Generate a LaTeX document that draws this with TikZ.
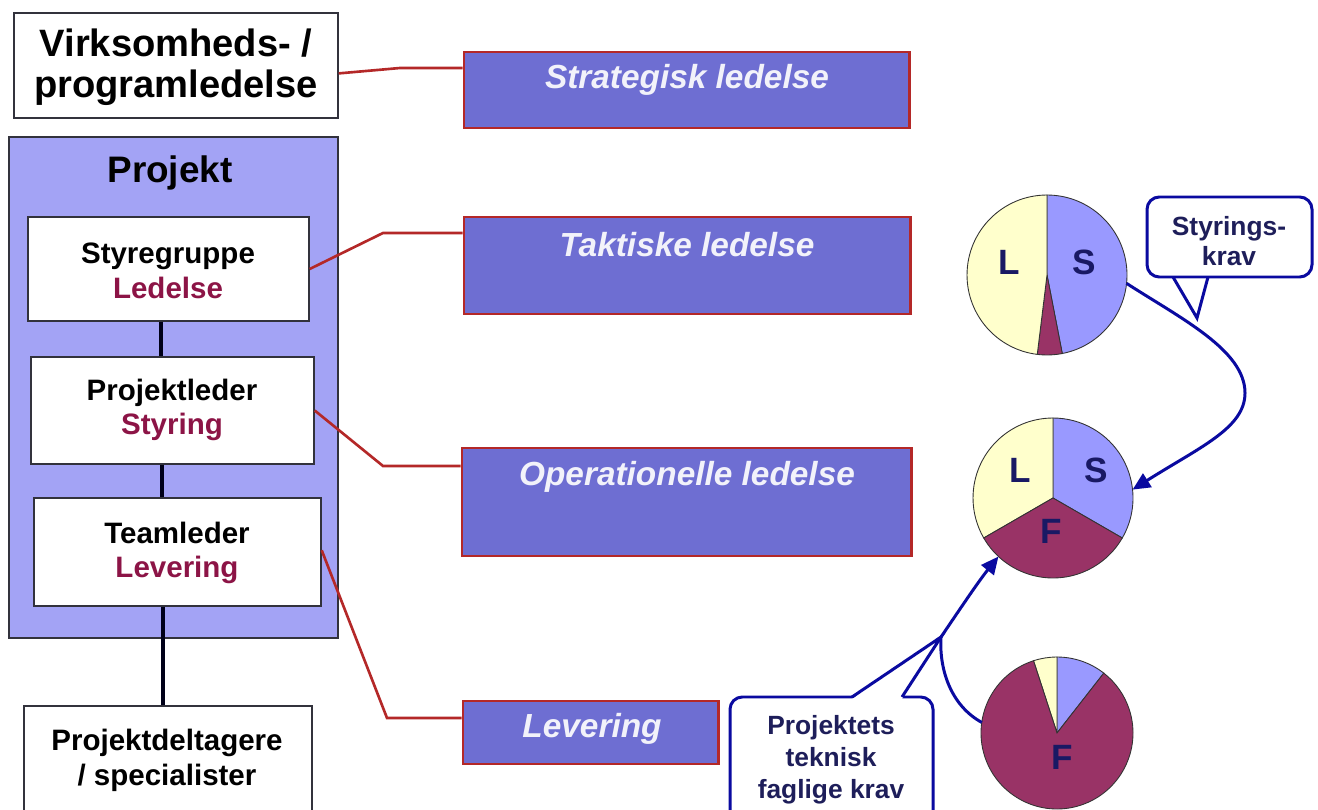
\documentclass[tikz,border=0pt]{standalone}
\usepackage{fontspec}
\setmainfont{Liberation Sans}
\usetikzlibrary{arrows.meta,fit}
\definecolor{projfill}{RGB}{163,163,245}
\definecolor{rbfill}{RGB}{110,110,210}
\definecolor{rbborder}{RGB}{180,40,40}
\definecolor{redtxt}{RGB}{140,20,70}
\definecolor{navy}{RGB}{10,10,160}
\definecolor{pietxt}{RGB}{25,25,100}
\definecolor{calltxt}{RGB}{30,30,90}
\definecolor{pieS}{RGB}{153,153,255}
\definecolor{pieL}{RGB}{255,255,204}
\definecolor{pieF}{RGB}{153,51,102}
\definecolor{boxline}{RGB}{50,50,60}
\definecolor{rtxtcol}{RGB}{242,242,250}
\begin{document}
\begin{tikzpicture}[x=0.02cm,y=-0.02cm,
  wbox/.style={draw=boxline, line width=0.8pt, fill=white, inner sep=0pt},
  wtext/.style={align=center, font=\fontsize{16.8}{19.8}\selectfont\bfseries},
  rbox/.style={draw=rbborder, line width=1.7pt, fill=rbfill, inner sep=0pt},
  rtext/.style={text=rtxtcol, font=\fontsize{19}{22}\selectfont\bfseries\itshape},
  redline/.style={draw=rbborder, line width=1.5pt},
  blk/.style={draw=black!90!blue, line width=2.8pt},
  sector/.style={draw=black!80, line width=0.5pt},
  pielbl/.style={text=pietxt, font=\fontsize{20}{24}\selectfont\bfseries},
  cbox/.style={draw=navy, line width=1.7pt, fill=white},
  ctext/.style={text=calltxt, align=center, font=\fontsize{15}{17.5}\selectfont\bfseries},
  navyarrow/.style={draw=navy, line width=1.7pt, -{Triangle[length=10pt,width=9pt]}},
  navyline/.style={draw=navy, line width=1.7pt}
]
\useasboundingbox (0,0) rectangle (1318,810);
\clip (0,0) rectangle (1318,810);
\fill[white] (0,0) rectangle (1318,810);

% left column
\node[wbox, fit={(14,13) (338,118)}] (virk) {};
\node[wtext, font=\fontsize{21.7}{23.2}\selectfont\bfseries] (virkt) at (176,67) {Virksomheds- /\\programledelse};
\node[draw=boxline, line width=0.6pt, fill=projfill, inner sep=0pt, fit={(9,137) (338,638)}] (proj) {};
\node[font=\fontsize{21}{24}\selectfont\bfseries] (projt) at (170,173) {Projekt};
\node[wbox, fit={(28,217) (309,321)}] (styr) {};
\node[wtext] (styrt) at (168,271) {Styregruppe\\\textcolor{redtxt}{Ledelse}};
\node[wbox, fit={(31,357) (314,464)}] (projl) {};
\node[wtext] (projlt) at (172,410) {Projektleder\\\textcolor{redtxt}{Styring}};
\node[wbox, fit={(34,498) (321,606)}] (team) {};
\node[wtext] (teamt) at (177,553) {Teamleder\\\textcolor{redtxt}{Levering}};
\node[wbox, fit={(24,706) (312,850)}] (delt) {};
\node[wtext] (deltt) at (167,760) {Projektdeltagere\\/ specialister};

\draw[blk] (161,0 |- styr.south) -- (161,0 |- projl.north);
\draw[blk] (162,0 |- projl.south) -- (162,0 |- team.north);
\draw[blk] (163,0 |- team.south) -- (163,0 |- delt.north);

% right boxes
\node[rbox, fit={(464,52) (909,128)}] (strat) {};
\node[rtext] (stratt) at (687,80) {Strategisk ledelse};
\node[rbox, fit={(464,217) (910,314)}] (takt) {};
\node[rtext] (taktt) at (687,245) {Taktiske ledelse};
\node[rbox, fit={(462,448) (911,556)}] (oper) {};
\node[rtext] (opert) at (687,477) {Operationelle ledelse};
\node[rbox, fit={(463,701) (718,764)}] (lev) {};
\node[rtext] (levt) at (592,729) {Levering};

% red connectors
\coordinate (k1) at (400,68);
\draw[redline] ([yshift=-4.5pt]virk.east) -- (k1) -- (k1 -| strat.west);
\coordinate (k2) at (383,233);
\draw[redline] (styr.east) -- (k2) -- (k2 -| takt.west);
\coordinate (k3) at (383,466);
\draw[redline] (projl.east) -- (k3) -- (k3 -| oper.west);
\coordinate (k4) at (387,718);
\draw[redline] ([yshift=1pt]team.east) -- (k4) -- (k4 -| lev.west);

% pies
\coordinate (p1) at (1047,275);
\fill[pieS, sector] (p1) -- ++(-79:1.6cm) arc[start angle=-79,end angle=90,radius=1.6cm] -- cycle;
\fill[pieF, sector] (p1) -- ++(-97:1.6cm) arc[start angle=-97,end angle=-79,radius=1.6cm] -- cycle;
\fill[pieL, sector] (p1) -- ++(90:1.6cm) arc[start angle=90,end angle=263,radius=1.6cm] -- cycle;
\node[pielbl] (p1L) at (1009,262) {L};
\node[pielbl] (p1S) at (1084,262) {S};

\coordinate (p2) at (1053,498);
\fill[pieS, sector] (p2) -- ++(-30:1.6cm) arc[start angle=-30,end angle=90,radius=1.6cm] -- cycle;
\fill[pieL, sector] (p2) -- ++(90:1.6cm) arc[start angle=90,end angle=210,radius=1.6cm] -- cycle;
\fill[pieF, sector] (p2) -- ++(210:1.6cm) arc[start angle=210,end angle=330,radius=1.6cm] -- cycle;
\node[pielbl] (p2L) at (1020,470) {L};
\node[pielbl] (p2S) at (1096,470) {S};
\node[pielbl] (p2F) at (1051,531) {F};

\coordinate (p3) at (1057,733);
\fill[pieS, sector] (p3) -- ++(52:1.52cm) arc[start angle=52,end angle=90,radius=1.52cm] -- cycle;
\fill[pieL, sector] (p3) -- ++(90:1.52cm) arc[start angle=90,end angle=108,radius=1.52cm] -- cycle;
\fill[pieF, sector] (p3) -- ++(108:1.52cm) arc[start angle=108,end angle=412,radius=1.52cm] -- cycle;
\node[pielbl] (p3F) at (1062,757) {F};

% callout 1
\draw[cbox, rounded corners=7pt] (1147,197) rectangle (1312,277);
\fill[white] (1173,279) -- (1197,318) -- (1208,279) -- cycle;
\coordinate (c1tip) at (1197,318);
\draw[navyline, line join=miter] (1173,277) -- (c1tip) -- (1208,277);
\node[ctext] (c1t) at (1229,241) {Styrings-\\krav};

% callout 2
\draw[cbox, rounded corners=7pt] (730,697) rectangle (933,840);
\coordinate (join) at (941,637);
\fill[white] (852,699) -- (join) -- (902,699) -- cycle;
\draw[navyline, line join=miter] (852,697) -- (join) -- (902,697);
\node[ctext, font=\fontsize{15}{18.3}\selectfont\bfseries] (c2t) at (831,760) {Projektets\\teknisk\\faglige krav};

% arrows
\path (p1) ++(-6:1.6cm) coordinate (a1s);
\path (p2) ++(6:1.6cm) coordinate (a1e);
\draw[navyarrow] (a1s) .. controls (1180,318) and (1245,350) .. (1245,393) .. controls (1245,428) and (1200,447) .. (a1e);
\path (p3) ++(172:1.52cm) coordinate (a3s);
\path (p2) ++(227:1.6cm) coordinate (a2e);
\draw[navyline] (a3s) .. controls (950,705) and (939,668) .. (join);
\draw[navyarrow] (join) .. controls (958,612) and (978,582) .. (a2e);
\end{tikzpicture}
\end{document}
